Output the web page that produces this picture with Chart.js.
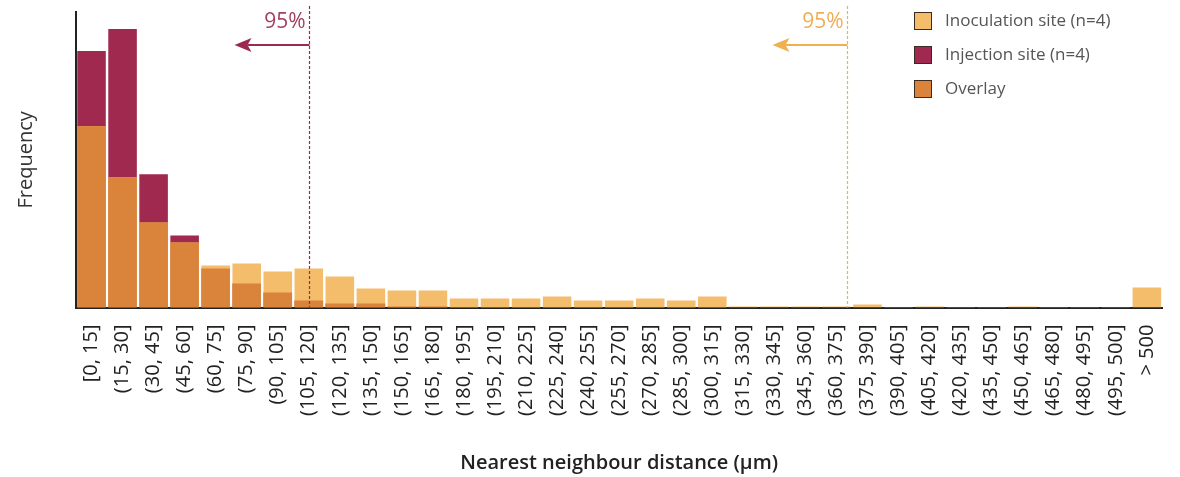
<!DOCTYPE html>
<html>
<head>
<meta charset="utf-8">
<script src="https://cdn.jsdelivr.net/npm/chart.js@4.4.1/dist/chart.umd.min.js"></script>
<style>
    html, body { margin: 0; padding: 0; background: #fff; }
    #wrap { position: relative; width: 1180px; height: 477px; }
</style>
</head>
<body>
<div id="wrap"><canvas id="nndChart" width="1180" height="477"></canvas></div>
<script>
// Histogram bins (µm)
const binLabels = [
    '[0, 15]', '(15, 30]', '(30, 45]', '(45, 60]', '(60, 75]', '(75, 90]', '(90, 105]',
    '(105, 120]', '(120, 135]', '(135, 150]', '(150, 165]', '(165, 180]', '(180, 195]',
    '(195, 210]', '(210, 225]', '(225, 240]', '(240, 255]', '(255, 270]', '(270, 285]',
    '(285, 300]', '(300, 315]', '(315, 330]', '(330, 345]', '(345, 360]', '(360, 375]',
    '(375, 390]', '(390, 405]', '(405, 420]', '(420, 435]', '(435, 450]', '(450, 465]',
    '(465, 480]', '(480, 495]', '(495, 500]', '> 500'
];

// Frequencies (arbitrary units, no y ticks in the original)
const inoculationFreq = [
    181, 130, 85, 65, 42, 44, 36, 39, 31, 19, 17, 17, 9, 9, 9, 11, 7, 7,
    9, 7, 11, 1, 1, 1, 1, 3, 0.5, 1, 0.5, 0.5, 1, 0.5, 0.5, 0.5, 20
];
const injectionFreq = [
    256, 278, 133, 72, 39, 24, 15, 7, 4, 4, 1, 1, 0.5, 0.5, 0.5, 0.5, 0.5, 0.5,
    0.5, 0.5, 0.5, 0, 0, 0, 0, 0, 0, 0, 0, 0, 0, 0, 0, 0, 0
];
const overlayFreq = [
    181, 130, 85, 65, 39, 24, 15, 7, 4, 4, 1, 1, 0.5, 0.5, 0.5, 0.5, 0.5, 0.5,
    0.5, 0.5, 0.5, 0, 0, 0, 0, 0, 0, 0, 0, 0, 0, 0, 0, 0, 0
];

// 95% cut-offs, as positions on the category axis
const injection95 = 7;
const inoculation95 = 24.35;

const colors = {
    inoculation: '#f4bd6c',
    injection: '#a0294f',
    overlay: '#d9843a'
};

const FONT = '"Open Sans", "Noto Sans", sans-serif';

// Draws the dashed 95% markers with arrows and the legend box
const markersPlugin = {
    id: 'markers',
    afterDatasetsDraw(chart) {
        const ctx = chart.ctx;
        const x = chart.scales.x;
        const area = chart.chartArea;

        function catPixel(v) {
            const i = Math.floor(v);
            const p0 = x.getPixelForValue(i);
            const p1 = x.getPixelForValue(i + 1);
            return p0 + (p1 - p0) * (v - i);
        }

        function marker(v, color, textColor) {
            const px = Math.round(catPixel(v)) + 0.5;
            ctx.save();
            ctx.strokeStyle = color;
            ctx.lineWidth = 1.2;
            ctx.setLineDash([3, 2]);
            ctx.beginPath();
            ctx.moveTo(px, 6);
            ctx.lineTo(px, area.bottom);
            ctx.stroke();
            ctx.setLineDash([]);
            // arrow
            ctx.lineWidth = 2;
            ctx.beginPath();
            ctx.moveTo(px, 45);
            ctx.lineTo(px - 62, 45);
            ctx.stroke();
            ctx.fillStyle = color;
            ctx.beginPath();
            ctx.moveTo(px - 75, 45);
            ctx.lineTo(px - 58, 38);
            ctx.lineTo(px - 62, 45);
            ctx.lineTo(px - 58, 52);
            ctx.closePath();
            ctx.fill();
            ctx.fillStyle = textColor;
            ctx.font = '21px ' + FONT;
            ctx.textAlign = 'right';
            ctx.textBaseline = 'middle';
            ctx.fillText('95%', px - 4, 22);
            ctx.restore();
        }

        marker(injection95, '#9b2a4e', '#a0415f');
        marker(inoculation95, '#f0b04f', '#efae55');

        // legend
        ctx.save();
        ctx.font = '17px ' + FONT;
        ctx.textAlign = 'left';
        ctx.textBaseline = 'middle';
        chart.data.datasets.forEach((ds, i) => {
            const cy = 21 + i * 34;
            ctx.fillStyle = ds.backgroundColor;
            ctx.fillRect(914, cy - 9, 18, 18);
            ctx.strokeStyle = '#3a2a20';
            ctx.lineWidth = 1;
            ctx.strokeRect(914.5, cy - 8.5, 17, 17);
            ctx.fillStyle = '#555';
            ctx.fillText(ds.label, 945, cy);
        });
        ctx.restore();
    }
};

document.addEventListener('DOMContentLoaded', function() {
    const ctx = document.getElementById('nndChart');

    new Chart(ctx, {
        type: 'bar',
        data: {
            labels: binLabels,
            datasets: [
                {
                    label: 'Inoculation site (n=4)',
                    data: inoculationFreq,
                    backgroundColor: colors.inoculation,
                    order: 1
                },
                {
                    label: 'Injection site (n=4)',
                    data: injectionFreq,
                    backgroundColor: colors.injection,
                    order: 2
                },
                {
                    label: 'Overlay',
                    data: overlayFreq,
                    backgroundColor: colors.overlay,
                    order: 0
                }
            ]
        },
        options: {
            responsive: false,
            animation: false,
            layout: {
                padding: { top: 12, right: 10, bottom: 2, left: 14 }
            },
            datasets: {
                bar: {
                    grouped: false,
                    categoryPercentage: 1,
                    barPercentage: 0.92
                }
            },
            plugins: {
                legend: { display: false },
                tooltip: { enabled: false }
            },
            scales: {
                x: {
                    grid: { display: false },
                    border: { color: '#222', width: 2 },
                    ticks: {
                        color: '#222',
                        font: { family: FONT, size: 20 },
                        minRotation: 90,
                        maxRotation: 90,
                        autoSkip: false,
                        padding: 9
                    },
                    title: {
                        display: true,
                        text: 'Nearest neighbour distance (µm)',
                        color: '#222',
                        font: { family: FONT, size: 20, weight: '600' },
                        padding: { top: 26, bottom: 0 }
                    }
                },
                y: {
                    min: 0,
                    max: 295,
                    grid: { display: false },
                    border: { color: '#222', width: 2 },
                    ticks: { display: false },
                    title: {
                        display: true,
                        text: 'Frequency',
                        color: '#333',
                        font: { family: FONT, size: 20 },
                        padding: { top: 0, bottom: 30 }
                    }
                }
            }
        },
        plugins: [markersPlugin]
    });
});
</script>
</body>
</html>
